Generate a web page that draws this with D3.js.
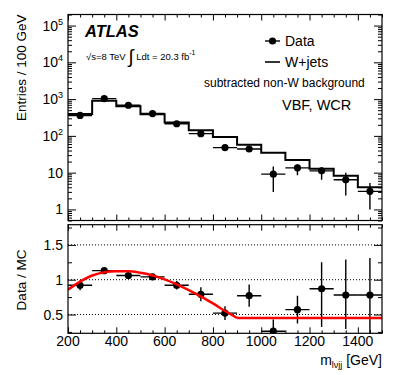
<!DOCTYPE html>
<html>
<head>
<meta charset="utf-8">
<script src="https://cdn.jsdelivr.net/npm/d3@7"></script>
<style>
  body { margin: 0; background: #fff; }
  svg { display: block; font-family: "Liberation Sans", Arial, sans-serif; }
</style>
</head>
<body>
<svg id="svg" width="407" height="375"></svg>
<script>
// m_lvjj bins (GeV), 100 GeV wide
var binCenters = [250, 350, 450, 550, 650, 750, 850, 950, 1050, 1150, 1250, 1350, 1450];
var binHalf = 50;

// top panel: data and W+jets
var dataVals  = [360, 1030, 680, 405, 214, 115, 48, 44, 9.1, 13.5, 11.2, 6.4, 3.1];
var dataErrLo = [19, 32, 26, 20, 15, 11, 7, 7, 6.1, 5.0, 4.8, 4.0, 2.1];
var dataErrHi = [19, 32, 26, 20, 15, 11, 7, 7, 5.6, 3.5, 2.8, 3.6, 2.1];
var mcVals    = [392, 900, 640, 385, 230, 142, 93, 57, 35, 22, 12.7, 8.2, 4.0];

// bottom panel: data / MC
var ratioVals  = [0.92, 1.13, 1.06, 1.04, 0.92, 0.79, 0.52, 0.77, 0.26, 0.57, 0.87, 0.78, 0.78];
var ratioErrLo = [0.07, 0.03, 0.03, 0.045, 0.06, 0.1, 0.1, 0.16, 0.17, 0.2, 0.55, 0.49, 0.6];
var ratioErrHi = [0.07, 0.03, 0.03, 0.045, 0.06, 0.1, 0.1, 0.16, 0.17, 0.2, 0.38, 0.51, 0.53];

// red fit
var fitX = [200, 300, 400, 450, 500, 600, 700, 800, 850, 900, 1500];
var fitY = [0.857, 1.06, 1.12, 1.12, 1.10, 1.005, 0.85, 0.66, 0.55, 0.45, 0.45];

// tick labels
var xLabels = [200, 400, 600, 800, 1000, 1200, 1400];
var topDecades = [0, 1, 2, 3, 4, 5];
var ratioLabels = [0.5, 1, 1.5];

var left = 68, right = 382;
var top1 = 14.5, bot1 = 220.5;
var top2 = 224.7, bot2 = 333.3;

var x = d3.scaleLinear().domain([200, 1500]).range([left, right]);
var yTop = d3.scaleLog().domain([0.5, 2e5]).range([bot1, top1]);
var yBot = d3.scaleLinear().domain([0.23, 1.79]).range([bot2, top2]);

var svg = d3.select("#svg");

var defs = svg.append("defs");
defs.append("clipPath").attr("id", "clipTop")
  .append("rect").attr("x", left).attr("y", top1).attr("width", right - left).attr("height", bot1 - top1);
defs.append("clipPath").attr("id", "clipBot")
  .append("rect").attr("x", left).attr("y", top2).attr("width", right - left).attr("height", bot2 - top2);

// ---- ticks (ROOT style, inside the frames)
var xMinor = d3.range(200, 1501, 50);
var xMajor = d3.range(200, 1501, 200);

function xTicks(g, yEdge, dir) {
  g.append("g")
    .attr("transform", "translate(0," + yEdge + ")")
    .call(d3.axisBottom(x).tickValues(xMinor.filter(v => v % 200 != 0)).tickSize(-3 * dir).tickFormat(""))
    .call(a => a.select(".domain").remove());
  g.append("g")
    .attr("transform", "translate(0," + yEdge + ")")
    .call(d3.axisBottom(x).tickValues(xMajor).tickSize(-6 * dir).tickFormat(""))
    .call(a => a.select(".domain").remove());
}

var ticks = svg.append("g").attr("class", "ticks");
xTicks(ticks, bot1, 1);
xTicks(ticks, top1, -1);
xTicks(ticks, bot2, 1);
xTicks(ticks, top2, -1);

// log ticks top panel
var logMinor = [];
[-1, 0, 1, 2, 3, 4, 5].forEach(function(e) {
  for (var k = 2; k <= 9; k++) {
    var v = k * Math.pow(10, e);
    if (v >= 0.5 && v <= 2e5) logMinor.push(v);
  }
});
var logMajor = topDecades.map(e => Math.pow(10, e));

[[left, 1], [right, -1]].forEach(function(s) {
  ticks.append("g")
      .attr("transform", "translate(" + s[0] + ",0)")
      .call(d3.axisLeft(yTop).tickValues(logMinor).tickSize(-4 * s[1]).tickFormat(""))
      .call(a => a.select(".domain").remove());
  ticks.append("g")
      .attr("transform", "translate(" + s[0] + ",0)")
      .call(d3.axisLeft(yTop).tickValues(logMajor).tickSize(-8 * s[1]).tickFormat(""))
      .call(a => a.select(".domain").remove());
  ticks.append("g")
      .attr("transform", "translate(" + s[0] + ",0)")
      .call(d3.axisLeft(yBot).tickValues([0.25, 0.75, 1.25, 1.75]).tickSize(-4 * s[1]).tickFormat(""))
      .call(a => a.select(".domain").remove());
  ticks.append("g")
      .attr("transform", "translate(" + s[0] + ",0)")
      .call(d3.axisLeft(yBot).tickValues(ratioLabels).tickSize(-8 * s[1]).tickFormat(""))
      .call(a => a.select(".domain").remove());
});
ticks.selectAll("line").attr("stroke", "#000").attr("stroke-width", 1);

// dotted grid in ratio panel
svg.append("g")
  .selectAll("line")
  .data(ratioLabels)
  .join("line")
    .attr("x1", left).attr("x2", right)
    .attr("y1", d => yBot(d)).attr("y2", d => yBot(d))
    .attr("stroke", "#000")
    .attr("stroke-width", 1)
    .attr("stroke-dasharray", "1,2");

// ---- top panel: W+jets histogram
var mcLine = d3.line().curve(d3.curveStepAfter);
var mcPts = binCenters.map((c, i) => [x(c - binHalf), yTop(mcVals[i])]);
mcPts.push([x(1500), yTop(mcVals[mcVals.length - 1])]);

var topG = svg.append("g").attr("clip-path", "url(#clipTop)");
topG.append("path")
    .attr("d", mcLine(mcPts))
    .attr("fill", "none")
    .attr("stroke", "#000")
    .attr("stroke-width", 2);

// data points top
var dTop = binCenters.map((c, i) => ({c: c, v: dataVals[i], lo: dataErrLo[i], hi: dataErrHi[i]}));
var pts = topG.append("g").attr("stroke", "#000").attr("stroke-width", 1.4);
pts.selectAll(".hbar").data(dTop).join("line")
    .attr("x1", d => x(d.c - binHalf)).attr("x2", d => x(d.c + binHalf))
    .attr("y1", d => yTop(d.v)).attr("y2", d => yTop(d.v));
pts.selectAll(".vbar").data(dTop).join("line")
    .attr("x1", d => x(d.c)).attr("x2", d => x(d.c))
    .attr("y1", d => yTop(d.v - d.lo)).attr("y2", d => yTop(d.v + d.hi));
topG.selectAll("circle").data(dTop).join("circle")
    .attr("cx", d => x(d.c)).attr("cy", d => yTop(d.v))
    .attr("r", 3.6).attr("fill", "#000");

// ---- bottom panel
var botG = svg.append("g").attr("clip-path", "url(#clipBot)");
var dBot = binCenters.map((c, i) => ({c: c, v: ratioVals[i], lo: ratioErrLo[i], hi: ratioErrHi[i]}));
var rp = botG.append("g").attr("stroke", "#000").attr("stroke-width", 1.4);
rp.selectAll(".hbar").data(dBot).join("line")
    .attr("x1", d => x(d.c - binHalf)).attr("x2", d => x(d.c + binHalf))
    .attr("y1", d => yBot(d.v)).attr("y2", d => yBot(d.v));
rp.selectAll(".vbar").data(dBot).join("line")
    .attr("x1", d => x(d.c)).attr("x2", d => x(d.c))
    .attr("y1", d => yBot(d.v - d.lo)).attr("y2", d => yBot(d.v + d.hi));
botG.selectAll("circle").data(dBot).join("circle")
    .attr("cx", d => x(d.c)).attr("cy", d => yBot(d.v))
    .attr("r", 3.6).attr("fill", "#000");

var fitLine = d3.line()
    .x(d => x(d[0]))
    .y(d => yBot(d[1]))
    .curve(d3.curveMonotoneX);
botG.append("path")
    .attr("d", fitLine(fitX.slice(0, 10).map((v, i) => [v, fitY[i]])))
    .attr("fill", "none").attr("stroke", "#ff0000").attr("stroke-width", 2.5);
botG.append("path")
    .attr("d", fitLine(fitX.slice(9).map((v, i) => [v, fitY[i + 9]])))
    .attr("fill", "none").attr("stroke", "#ff0000").attr("stroke-width", 2.5);

// frames
[[top1, bot1], [top2, bot2]].forEach(function(f) {
  svg.append("rect")
      .attr("x", left).attr("y", f[0])
      .attr("width", right - left).attr("height", f[1] - f[0])
      .attr("fill", "none").attr("stroke", "#000").attr("stroke-width", 1.2);
});

// ---- labels
var lab = svg.append("g").attr("fill", "#000");

// y labels top, 10^n
var decTxt = lab.selectAll(".dec").data(topDecades).join("text")
    .attr("x", 63)
    .attr("y", d => yTop(Math.pow(10, d)) + 5)
    .attr("text-anchor", "end")
    .attr("font-size", 14);
decTxt.each(function(d) {
  var t = d3.select(this);
  if (d == 0) { t.text("1"); return; }
  if (d == 1) { t.text("10"); return; }
  t.append("tspan").text("10");
  t.append("tspan").attr("font-size", 9).attr("dy", -6).text(d);
});

lab.selectAll(".rl").data(ratioLabels).join("text")
    .attr("x", 63)
    .attr("y", d => yBot(d) + 5)
    .attr("text-anchor", "end")
    .attr("font-size", 14)
    .text(d => d);

lab.selectAll(".xl").data(xLabels).join("text")
    .attr("x", d => x(d))
    .attr("y", 346)
    .attr("text-anchor", "middle")
    .attr("font-size", 14)
    .text(d => d);

// axis titles
lab.append("text")
    .attr("transform", "translate(26," + top1 + ") rotate(-90)")
    .attr("text-anchor", "end")
    .attr("font-size", 13.5)
    .text("Entries / 100 GeV");
lab.append("text")
    .attr("transform", "translate(26,280) rotate(-90)")
    .attr("text-anchor", "middle")
    .attr("font-size", 13.5)
    .text("Data / MC");

var xt = lab.append("text")
    .attr("x", right)
    .attr("y", 365)
    .attr("text-anchor", "end")
    .attr("font-size", 14);
xt.append("tspan").text("m");
xt.append("tspan").attr("font-size", 9).attr("dy", 3).text("lνjj");
xt.append("tspan").attr("dy", -3).text(" [GeV]");

// ATLAS label
lab.append("text")
    .attr("x", 85).attr("y", 37)
    .attr("font-size", 16.5).attr("font-weight", "bold").attr("font-style", "italic")
    .text("ATLAS");
var lumi = lab.append("text")
    .attr("x", 86).attr("y", 60)
    .attr("font-size", 9.5);
lumi.append("tspan").text("√s=8 TeV ");
lumi.append("tspan").attr("font-size", 19).attr("dy", 3).text("∫");
lumi.append("tspan").attr("dy", -3).text(" Ldt = 20.3 fb");
lumi.append("tspan").attr("font-size", 7).attr("dy", -5).text("-1");

// legend
var leg = svg.append("g");
leg.append("line").attr("x1", 265).attr("x2", 280).attr("y1", 41).attr("y2", 41)
    .attr("stroke", "#000").attr("stroke-width", 1.4);
leg.append("circle").attr("cx", 272.5).attr("cy", 41).attr("r", 3.6).attr("fill", "#000");
leg.append("text").attr("x", 285).attr("y", 46).attr("font-size", 14).text("Data");
leg.append("line").attr("x1", 265).attr("x2", 280).attr("y1", 62).attr("y2", 62)
    .attr("stroke", "#000").attr("stroke-width", 1.6);
leg.append("text").attr("x", 285).attr("y", 67).attr("font-size", 14).text("W+jets");

lab.append("text")
    .attr("x", 204).attr("y", 87)
    .attr("font-size", 12)
    .text("subtracted non-W background");
lab.append("text")
    .attr("x", 282).attr("y", 110)
    .attr("font-size", 14.5)
    .text("VBF, WCR");
</script>
</body>
</html>
